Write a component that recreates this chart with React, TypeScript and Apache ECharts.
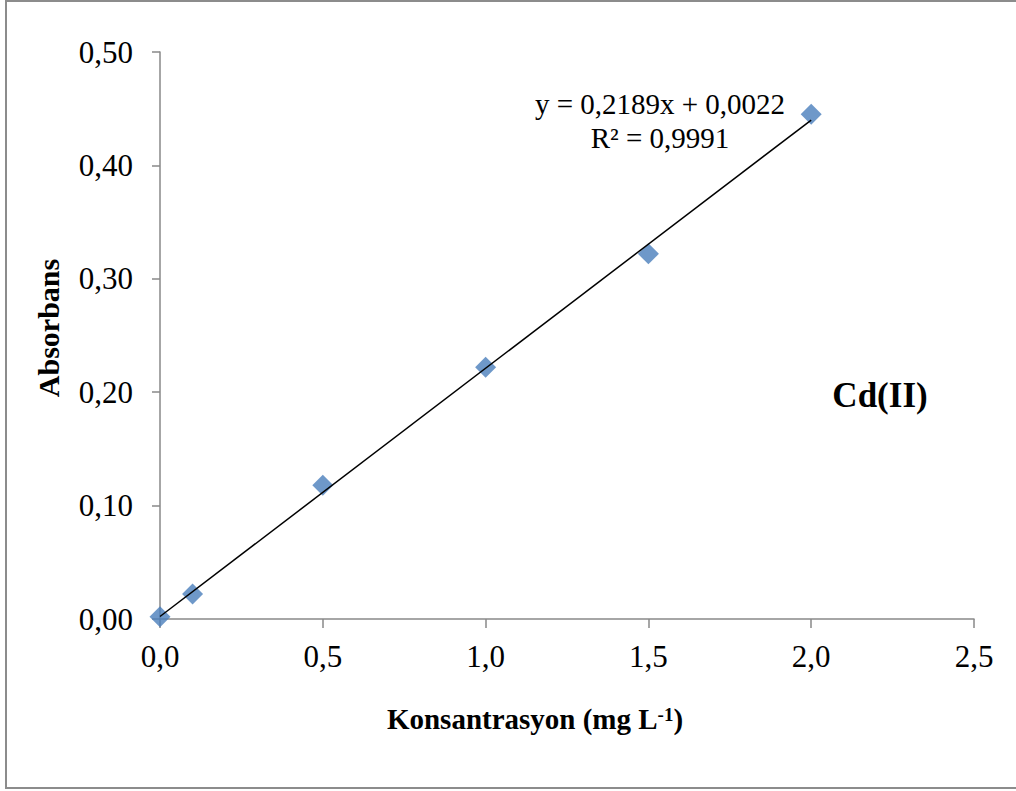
import React, { useEffect, useRef } from "react";
import * as echarts from "echarts";

// Calibration standards for Cd(II)
const concentrations = [0, 0.1, 0.5, 1.0, 1.5, 2.0];
const absorbances = [0.002, 0.022, 0.118, 0.222, 0.322, 0.445];

// Linear fit y = slope * x + intercept
const slope = 0.2189;
const intercept = 0.0022;
const rSquared = "0,9991";
const fitRange = [0, 2.0];

const xTicks = { min: 0, max: 2.5, interval: 0.5 };
const yTicks = { min: 0, max: 0.5, interval: 0.1 };

const serif = "'Liberation Serif', 'Times New Roman', serif";
const comma = (v: number, d: number) => v.toFixed(d).replace(".", ",");

export default function App() {
  const ref = useRef<HTMLDivElement>(null);

  useEffect(() => {
    if (!ref.current) return;
    const chart = echarts.init(ref.current, null, { renderer: "svg" });
    const fitLine = fitRange.map((x) => [x, slope * x + intercept]);
    const axisColor = "#898989";

    chart.setOption({
      animation: false,
      backgroundColor: "#ffffff",
      grid: { left: 160, top: 52, right: 42, bottom: 172 },
      xAxis: {
        type: "value",
        min: xTicks.min,
        max: xTicks.max,
        interval: xTicks.interval,
        axisLine: { lineStyle: { color: axisColor, width: 1.5 } },
        axisTick: { show: true, length: 9, lineStyle: { color: axisColor, width: 1.5 } },
        splitLine: { show: false },
        axisLabel: {
          margin: 22,
          color: "#000",
          fontFamily: serif,
          fontSize: 31,
          formatter: (v: number) => comma(v, 1),
        },
      },
      yAxis: {
        type: "value",
        min: yTicks.min,
        max: yTicks.max,
        interval: yTicks.interval,
        axisLine: { show: true, lineStyle: { color: axisColor, width: 1.5 } },
        axisTick: { show: true, length: 8, lineStyle: { color: axisColor, width: 1.5 } },
        splitLine: { show: false },
        axisLabel: {
          margin: 27,
          color: "#000",
          fontFamily: serif,
          fontSize: 31,
          formatter: (v: number) => comma(v, 2),
        },
      },
      series: [
        {
          type: "scatter",
          symbol: "diamond",
          symbolSize: 21,
          itemStyle: { color: "#4a7ebb" },
          data: concentrations.map((c, i) => [c, absorbances[i]]),
          z: 2,
        },
        {
          type: "line",
          data: fitLine,
          showSymbol: false,
          symbol: "none",
          lineStyle: { color: "#000", width: 1.5 },
          z: 3,
        },
      ],
      graphic: [
        {
          type: "rect",
          shape: { x: 6, y: 1, width: 1030, height: 787 },
          style: { fill: "none", stroke: "#8c8c8c", lineWidth: 2 },
          silent: true,
        },
        {
          type: "text",
          x: 660,
          y: 121,
          style: {
            text: `y = ${comma(slope, 4)}x + ${comma(intercept, 4)}\nR² = ${rSquared}`,
            font: `29px ${serif}`,
            fill: "#000",
            align: "center",
            verticalAlign: "middle",
            lineHeight: 34,
          },
        },
        {
          type: "text",
          x: 880,
          y: 395,
          style: {
            text: "Cd(II)",
            font: `bold 35px ${serif}`,
            fill: "#000",
            align: "center",
            verticalAlign: "middle",
          },
        },
        {
          type: "text",
          x: 48,
          y: 328,
          rotation: Math.PI / 2,
          style: {
            text: "Absorbans",
            font: `bold 30px ${serif}`,
            fill: "#000",
            align: "center",
            verticalAlign: "middle",
          },
        },
        {
          type: "text",
          x: 535,
          y: 719,
          style: {
            text: "{a|Konsantrasyon (mg L}{s|-1}{a|)}",
            align: "center",
            verticalAlign: "middle",
            rich: {
              a: { font: `bold 29px ${serif}`, fill: "#000", lineHeight: 29 },
              s: {
                font: `bold 19px ${serif}`,
                fill: "#000",
                lineHeight: 19,
                verticalAlign: "top",
              },
            },
          },
        },
      ],
    });

    return () => chart.dispose();
  }, []);

  return (
    <div
      ref={ref}
      style={{ position: "absolute", left: 0, top: 0, width: 1016, height: 791 }}
    />
  );
}
